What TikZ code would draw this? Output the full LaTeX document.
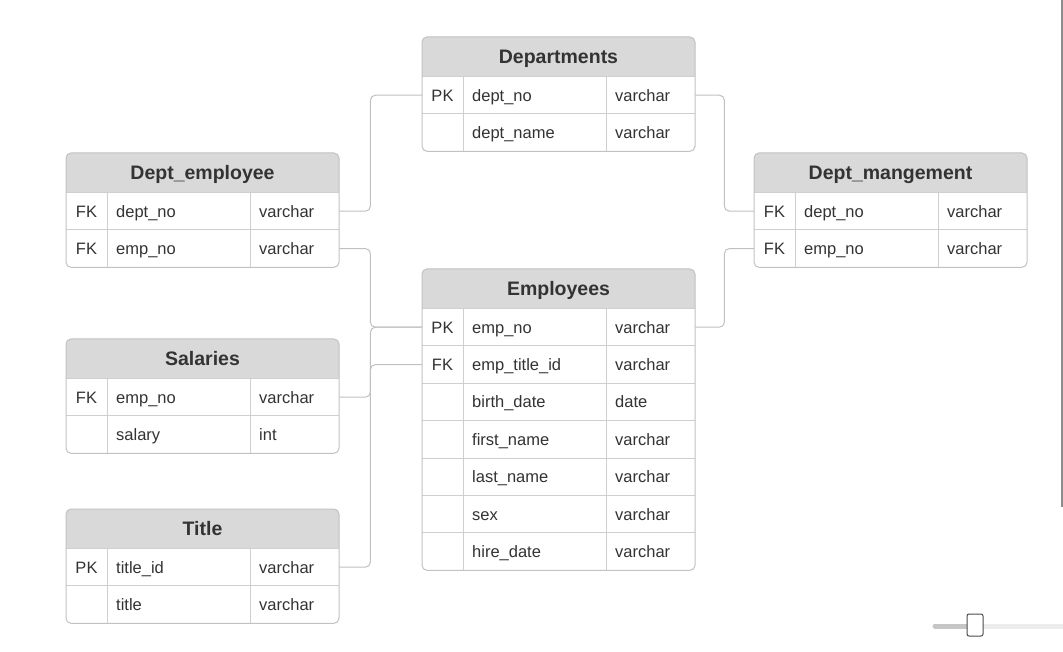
\documentclass[tikz,border=0pt]{standalone}
\usepackage{fontspec}
\setmainfont{Liberation Sans}
\usepackage{tikz}
\usetikzlibrary{calc}
\definecolor{headfill}{HTML}{D9D9D9}
\definecolor{gridgray}{HTML}{CFCFCF}
\definecolor{framegray}{HTML}{C2C2C2}
\definecolor{linkgray}{HTML}{C0C0C0}
\definecolor{txtgray}{HTML}{333333}

% one ER table: name, left x, top y, title, rows, list key/field/type
\newcommand{\ertable}[6]{%
  \pgfmathsetmacro{\tabbot}{#3+39.5+37.4*#5}
  \fill[white, rounded corners=5] (#2,#3) rectangle (#2+273,\tabbot);
  \fill[headfill] (#2,#3+39.5) [rounded corners=5] -- (#2,#3) -- (#2+273,#3) [sharp corners] -- (#2+273,#3+39.5) -- cycle;
  \node[tabtitle] (#1) at (#2+136.5,#3+19.75) {#4};
  \foreach \k/\n/\t [count=\i] in {#6} {
    \pgfmathsetmacro{\rowy}{#3+39.5+37.4*(\i-1)}
    \draw[gridline] (#2,\rowy) -- ++(273,0);
    \node[keycell] (#1-k\i) at (#2+20.5,\rowy+18.7) {\k};
    \node[namecell] (#1-n\i) at (#2+41,\rowy+18.7) {\n};
    \node[typecell] (#1-t\i) at (#2+184,\rowy+18.7) {\t};
  }
  \draw[gridline] (#2+41,#3+39.5) -- (#2+41,\tabbot);
  \draw[gridline] (#2+184,#3+39.5) -- (#2+184,\tabbot);
  \draw[tabframe] (#2,#3) rectangle (#2+273,\tabbot);
}

\begin{document}
\begin{tikzpicture}[x=1pt, y=-1pt,
    tabtitle/.style={font=\fontsize{19.5}{22}\selectfont\bfseries, text=txtgray, inner sep=0, text height=14, text depth=0},
    keycell/.style={minimum width=41, minimum height=37.4, inner sep=0, text height=11.8, text depth=0, font=\fontsize{16.5}{19}\selectfont, text=txtgray},
    namecell/.style={anchor=west, text width=125, inner xsep=9, inner ysep=0, minimum height=37.4, align=left, text height=11.8, text depth=0, font=\fontsize{16.5}{19}\selectfont, text=txtgray},
    typecell/.style={anchor=west, text width=71, inner xsep=9, inner ysep=0, minimum height=37.4, align=left, text height=11.8, text depth=0, font=\fontsize{16.5}{19}\selectfont, text=txtgray},
    gridline/.style={draw=gridgray, line width=1},
    tabframe/.style={draw=framegray, line width=1, rounded corners=5},
    link/.style={draw=linkgray, line width=1, rounded corners=5}]
\useasboundingbox (0,0) rectangle (1063,652);
% tables
\ertable{dep}{422}{37}{Departments}{2}{PK/dept\_no/varchar, /dept\_name/varchar}
\ertable{dem}{66}{153}{Dept\_employee}{2}{FK/dept\_no/varchar, FK/emp\_no/varchar}
\ertable{dmg}{754}{153}{Dept\_mangement}{2}{FK/dept\_no/varchar, FK/emp\_no/varchar}
\ertable{emp}{422}{269}{Employees}{7}{PK/emp\_no/varchar, FK/emp\_title\_id/varchar, /birth\_date/date, /first\_name/varchar, /last\_name/varchar, /sex/varchar, /hire\_date/varchar}
\ertable{sal}{66}{339}{Salaries}{2}{FK/emp\_no/varchar, /salary/int}
\ertable{tit}{66}{509}{Title}{2}{PK/title\_id/varchar, /title/varchar}
% links
\draw[link] (dem-t1.east) -- ++(31,0) |- (dep-k1.west);
\draw[link] (dem-t2.east) -- ++(31,0) |- (emp-k1.west);
\draw[link] (sal-t1.east) -- ++(31,0) |- (emp-k1.west);
\draw[link] (tit-t1.east) -- ++(31,0) |- (emp-k2.west);
\draw[link] (dep-t1.east) -- ++(29,0) |- (dmg-k1.west);
\draw[link] (emp-t1.east) -- ++(29,0) |- (dmg-k2.west);
% zoom slider and scroll bar
\draw[line width=5, line cap=round, draw=gray!45] (935,626) -- (970,626);
\draw[line width=5, draw=gray!15] (980,626) -- (1063,626);
\node[draw=gray!140, fill=white, rounded corners=2, line width=1, minimum width=16, minimum height=22, inner sep=0] (knob) at (975,625) {};
\draw[line width=2, draw=gray!90] (1061.5,0) -- (1061.5,507);
\end{tikzpicture}
\end{document}
